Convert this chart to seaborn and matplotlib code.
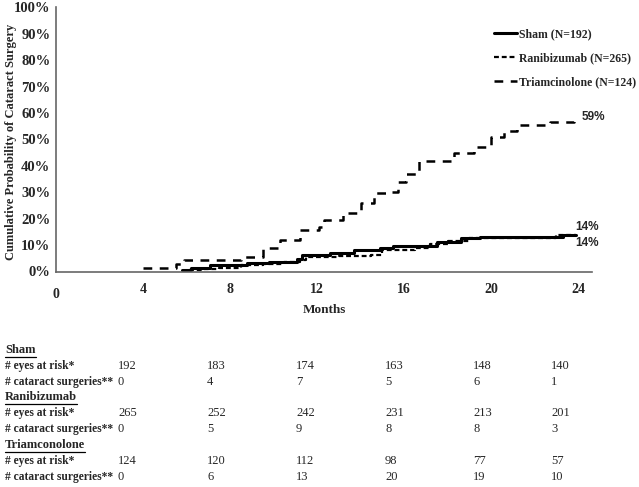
import matplotlib
matplotlib.use("Agg")
import matplotlib.pyplot as plt
import seaborn as sns
import pandas as pd

# ---- data ----
sham_months = [5.8, 6.2, 7.1, 8.8, 9.8, 11.1, 11.3, 12.6, 13.7, 14.9, 15.5, 17.0, 17.5, 18.6, 19.5, 23.3, 23.9]
sham_prob = [0.005, 0.013, 0.025, 0.032, 0.036, 0.047, 0.062, 0.07, 0.08, 0.09, 0.095, 0.095, 0.11, 0.125, 0.13, 0.14, 0.14]

rani_months = [6.1, 6.8, 7.5, 8.5, 9.5, 10.5, 11.2, 11.5, 13.0, 14.5, 15.0, 16.5, 17.2, 18.0, 19.0, 19.6, 23.0, 23.9]
rani_prob = [0.004, 0.01, 0.015, 0.023, 0.03, 0.036, 0.045, 0.055, 0.058, 0.063, 0.08, 0.09, 0.105, 0.115, 0.125, 0.128, 0.14, 0.14]

tria_months = [4.0, 5.5, 5.9, 8.5, 9.5, 10.3, 11.2, 12.1, 12.3, 13.2, 14.0, 14.6, 15.2, 15.7, 16.1, 16.7, 17.5, 18.3, 19.2, 20.0, 20.6, 21.2, 21.9, 22.7, 23.8]
tria_prob = [0.013, 0.03, 0.043, 0.055, 0.089, 0.12, 0.157, 0.17, 0.195, 0.22, 0.26, 0.297, 0.30, 0.34, 0.37, 0.42, 0.42, 0.45, 0.47, 0.51, 0.53, 0.555, 0.555, 0.567, 0.58]

series_names = ["Sham (N=192)", "Ranibizumab (N=265)", "Triamcinolone (N=124)"]
x_ticks = [0, 4, 8, 12, 16, 20, 24]
y_ticks = [0, 0.1, 0.2, 0.3, 0.4, 0.5, 0.6, 0.7, 0.8, 0.9, 1.0]

table_groups = ["Sham", "Ranibizumab", "Triamconolone"]
row_labels = ["# eyes at risk*", "# cataract surgeries**"]
sham_risk = [192, 183, 174, 163, 148, 140]
sham_surg = [0, 4, 7, 5, 6, 1]
rani_risk = [265, 252, 242, 231, 213, 201]
rani_surg = [0, 5, 9, 8, 8, 3]
tria_risk = [124, 120, 112, 98, 77, 57]
tria_surg = [0, 6, 13, 20, 19, 10]

# ---- figure ----
sns.set_style("white")
plt.rcParams['font.family'] = ['Liberation Serif', 'DejaVu Serif']
W, H = 639, 487
fig = plt.figure(figsize=(W / 100, H / 100), dpi=100)
ax = fig.add_axes([56 / W, 1 - 271.5 / H, 536 / W, (271.5 - 7.3) / H])

df_s = pd.DataFrame({"m": sham_months, "p": sham_prob})
df_r = pd.DataFrame({"m": rani_months, "p": rani_prob})
df_t = pd.DataFrame({"m": tria_months, "p": tria_prob})

sns.lineplot(data=df_s, x="m", y="p", ax=ax, color="black", lw=2.2, drawstyle="steps-post",
             estimator=None, label=series_names[0])
sns.lineplot(data=df_r, x="m", y="p", ax=ax, color="black", lw=1.6, drawstyle="steps-post",
             estimator=None, label=series_names[1], dashes=False)
sns.lineplot(data=df_t, x="m", y="p", ax=ax, color="black", lw=1.8, drawstyle="steps-post",
             estimator=None, label=series_names[2], dashes=False)
lines = ax.get_lines()
lines[1].set_dashes([2.2, 1.3])
lines[2].set_dashes([3.5, 3.0])

ax.set_xlim(0, 24.64)
ax.set_ylim(0, 1.0)
ax.set_xticks(x_ticks)
ax.set_xticklabels([str(t) for t in x_ticks], fontweight="bold", fontsize=10)
ax.set_yticks(y_ticks)
ax.set_yticklabels([f"{int(round(t * 100))}%" for t in y_ticks], fontweight="bold", fontsize=10.5)
ax.tick_params(axis="x", direction="in", length=4, width=1, color="#555555", pad=8)
ax.tick_params(axis="y", length=0, pad=4)
for t in ax.get_xticklabels():
    if t.get_text() == "0":
        t.set_y(-0.02)
for sp in ["top", "right"]:
    ax.spines[sp].set_visible(False)
for sp in ["left", "bottom"]:
    ax.spines[sp].set_color("#666666")
    ax.spines[sp].set_linewidth(1.2)

ax.set_xlabel("Months", fontweight="bold", fontsize=9.5, labelpad=2)
ax.set_ylabel("Cumulative Probability of Cataract Surgery", fontweight="bold", fontsize=9)
ax.yaxis.set_label_coords(-39 / 536, 0.49)

leg = ax.legend(loc="upper left", bbox_to_anchor=(483 / W, 1 - 18 / H), bbox_transform=fig.transFigure,
                frameon=False, handlelength=2.0, handletextpad=0.15, labelspacing=1.0,
                prop={"weight": "bold", "size": 8.5})

# end labels
for txt, xv, yv in [("59%", 24.15, 0.585), ("14%", 23.85, 0.168), ("14%", 23.85, 0.108)]:
    ax.text(xv, yv, txt, fontsize=8.5, fontweight="bold", family="Liberation Sans", va="center", ha="left")

# ---- risk table ----
def fx(px):
    return px / W

def fy(py):
    return 1 - py / H

col_x = [118, 207, 296, 385, 473, 551]
group_y = [350, 397, 445]
groups_data = [(sham_risk, sham_surg), (rani_risk, rani_surg), (tria_risk, tria_surg)]
for gi, (gname, (risk, surg)) in enumerate(zip(table_groups, groups_data)):
    gy = group_y[gi]
    t = fig.text(fx(5), fy(gy), gname, fontsize=9, fontweight="bold", va="center", ha="left")
    fig.canvas.draw()
    bb = t.get_window_extent()
    fig.add_artist(plt.Line2D([bb.x0 / W, bb.x1 / W], [fy(gy + 7), fy(gy + 7)],
                              transform=fig.transFigure, color="black", lw=0.9))
    for ri, (rlabel, vals) in enumerate(zip(row_labels, [risk, surg])):
        ry = gy + 16 * (ri + 1)
        fig.text(fx(5), fy(ry), rlabel, fontsize=8.3, fontweight="bold", va="center", ha="left")
        for cx, v in zip(col_x, vals):
            fig.text(fx(cx), fy(ry), str(v), fontsize=9, va="center", ha="left")

fig.savefig("out.png", dpi=100)
